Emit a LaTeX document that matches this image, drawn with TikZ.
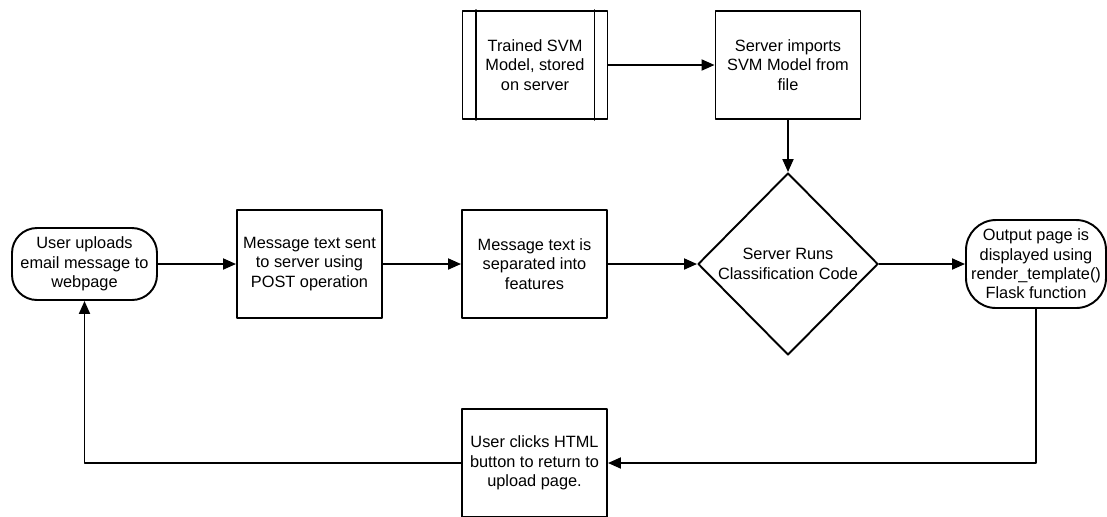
\documentclass[tikz,border=0pt]{standalone}
\usepackage{fontspec}
\setmainfont{Liberation Sans}
\usetikzlibrary{shapes.geometric,arrows.meta}

\begin{document}
\begin{tikzpicture}[>={Triangle[length=2.6mm,width=2.2mm]}, font=\fontsize{9.3}{11}\selectfont, line width=1.1pt, line join=round, line cap=round,
	procbox/.style={draw, minimum width=2.9cm, minimum height=2.16cm, align=center, inner sep=0},
	termbox/.style={draw, rounded corners=0.5cm, align=center, inner sep=0},
	decbox/.style={draw, diamond, minimum width=3.6cm, minimum height=3.64cm, align=center, inner sep=0}]
	\def\row{-5.28} \def\top{-1.3} \def\bot{-9.26}
	\def\bar{0.28} % predefined process side bars
	
	\useasboundingbox (0,0) rectangle (22.14,-10.32);
	
	\node[termbox, minimum width=2.9cm, minimum height=1.44cm] (upload) at (1.69,\row) {User uploads\\email message to\\webpage};
	\node[procbox] (post) at (6.19,\row) {Message text sent\\to server using\\POST operation};
	\node[procbox] (feat) at (10.69,\row) {Message text is\\separated into\\features};
	\node[decbox] (classify) at (15.76,\row) {Server Runs\\Classification Code};
	\node[termbox, rounded corners=0.6cm, minimum width=2.8cm, minimum height=1.76cm] (output) at (20.72,\row) {Output page is\\displayed using\\render\_template()\\Flask function};
	\node[procbox] (model) at (10.7,\top) {Trained SVM\\Model, stored\\on server};
	\node[procbox] (import) at (15.76,\top) {Server imports\\SVM Model from\\file};
	\node[procbox] (back) at (10.69,\bot) {User clicks HTML\\button to return to\\upload page.};
	
	\draw ([xshift=\bar cm]model.north west) -- ([xshift=\bar cm]model.south west);
	\draw ([xshift=-\bar cm]model.north east) -- ([xshift=-\bar cm]model.south east);
	
	\draw[->] (upload) -- (post);
	\draw[->] (post) -- (feat);
	\draw[->] (feat) -- (classify);
	\draw[->] (classify) -- (output);
	\draw[->] (model) -- (import);
	\draw[->] (import) -- (classify);
	\draw[->] (output.south) |- (back.east);
	\draw[->] (back.west) -| (upload.south);
	
\end{tikzpicture}
\end{document}
